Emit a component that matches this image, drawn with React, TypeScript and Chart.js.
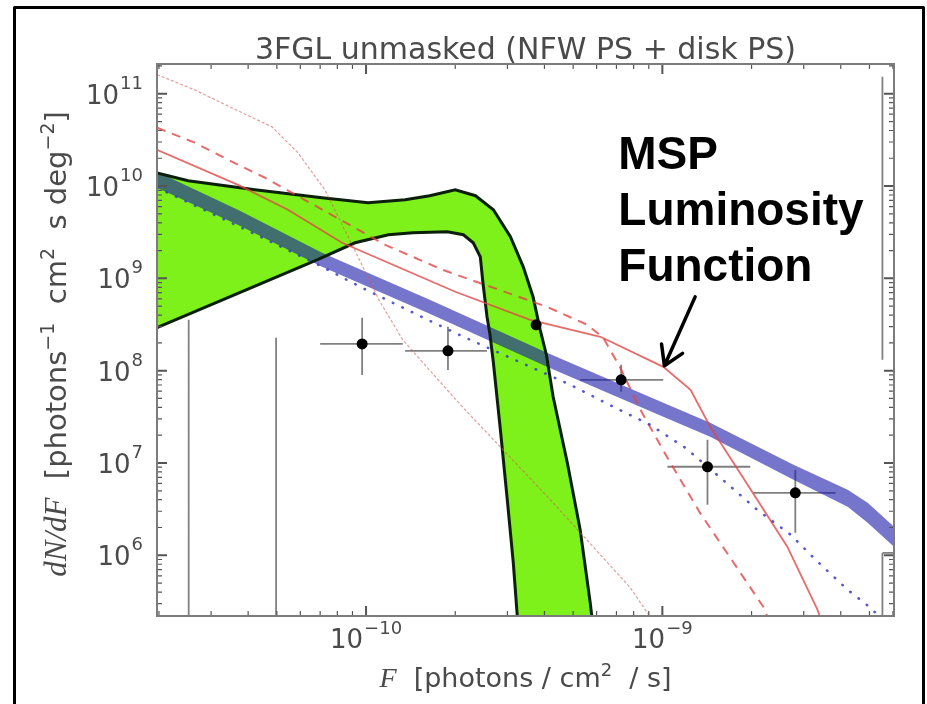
import React, { useEffect, useRef } from 'react';
import { Chart, registerables } from 'chart.js';

Chart.register(...registerables);

// ---------- axis ranges ----------
const F_MIN = 1.97e-11;
const F_MAX = 6.05e-9;
const N_MIN = 2.2e5;
const N_MAX = 2.1e11;

// ---------- text ----------
const titleText = '3FGL unmasked (NFW PS + disk PS)';
const xTickValues = [1e-10, 1e-9];
const xTickExps = ['−10', '−9'];
const yTickValues = [1e6, 1e7, 1e8, 1e9, 1e10, 1e11];
const yTickExps = ['6', '7', '8', '9', '10', '11'];
const annotationLines = ['MSP', 'Luminosity', 'Function'];
const annotationAnchor = { F: 7.1e-10, N: 1.54e10 };
const arrowTail = { F: 1.29e-9, N: 6.3e8 };
const arrowTip = { F: 1.016e-9, N: 1.13e8 };

// ---------- green band (disk PS) ----------
const greenUpperF = [1.97e-11, 2.51e-11, 4.22e-11, 7.1e-11, 1.016e-10, 1.355e-10, 1.64e-10, 2.0e-10, 2.34e-10, 2.69e-10, 3.07e-10, 3.39e-10, 3.66e-10, 3.87e-10, 4.06e-10, 4.28e-10, 4.78e-10, 5.28e-10, 5.71e-10, 5.85e-10];
const greenUpperN = [1.39e10, 1.14e10, 9.1e9, 7.47e9, 6.59e9, 7.1e9, 7.86e9, 9.1e9, 7.86e9, 5.53e9, 2.83e9, 1.34e9, 6.33e8, 2.77e8, 1.49e8, 5.21e7, 1.0e7, 1.89e6, 3.05e5, 1.56e5];
const greenInnerF = [1.97e-11, 6.83e-11, 9.18e-11, 1.19e-10, 1.44e-10, 1.88e-10, 2.13e-10, 2.30e-10, 2.43e-10, 2.48e-10, 2.56e-10, 2.62e-10, 2.69e-10, 2.84e-10, 2.99e-10, 3.14e-10, 3.24e-10, 3.26e-10];
const greenInnerN = [2.92e8, 1.59e9, 2.43e9, 2.97e9, 3.12e9, 3.2e9, 2.97e9, 2.43e9, 1.71e9, 8.96e8, 3.84e8, 2.45e8, 1.22e8, 2.29e7, 4.31e6, 8.3e5, 2.16e5, 1.56e5];

// ---------- blue band (NFW PS) ----------
const blueF = [1.97e-11, 3.75e-11, 7.1e-11, 1.64e-10, 4.08e-10, 1.007e-9, 1.45e-9, 2.77e-9, 4.22e-9, 4.93e-9, 6.05e-9];
const blueUpperN = [1.43e10, 5.4e9, 1.89e9, 5.87e8, 1.56e8, 4.49e7, 2.73e7, 9.55e6, 5.13e6, 3.71e6, 2.04e6];
const blueLowerN = [9.6e9, 3.71e9, 1.34e9, 4.13e8, 1.10e8, 3.17e7, 1.92e7, 6.57e6, 3.35e6, 2.25e6, 1.24e6];

// ---------- blue dotted ----------
const blueDotF = [1.97e-11, 2.41e-11, 4.06e-11, 7.0e-11, 9.69e-11, 1.64e-10, 2.13e-10, 4.89e-10, 6.83e-10, 9.1e-10, 1.196e-9, 1.57e-9, 2.09e-9, 2.71e-9, 3.29e-9, 4.22e-9, 5.04e-9, 5.45e-9];
const blueDotN = [9.6e9, 7.1e9, 3.2e9, 1.37e9, 7.91e8, 3.47e8, 2.33e8, 7.03e7, 4.06e7, 2.59e7, 1.46e7, 6.92e6, 3.11e6, 1.67e6, 8.94e5, 4.23e5, 2.7e5, 2.1e5];

// ---------- red solid ----------
const redSolidF = [1.97e-11, 3.70e-11, 5.45e-11, 8.3e-11, 2.0e-10, 3.58e-10, 6.18e-10, 1.007e-9, 1.245e-9, 1.45e-9, 1.74e-9, 2.09e-9, 2.64e-9, 3.34e-9, 3.47e-9];
const redSolidN = [2.47e10, 1.03e10, 5.53e9, 2.43e9, 7.16e8, 3.56e8, 2.33e8, 1.10e8, 6.21e7, 2.47e7, 1.0e7, 3.99e6, 1.24e6, 2.57e5, 1.77e5];

// ---------- red dashed ----------
const redDashF = [1.97e-11, 2.64e-11, 3.42e-11, 4.56e-11, 7.86e-11, 1.16e-10, 1.81e-10, 4.08e-10, 5.58e-10, 6.32e-10, 7.22e-10, 8.43e-10, 1.04e-9, 1.34e-9, 1.74e-9, 2.19e-9, 2.32e-9];
const redDashN = [4.29e10, 2.95e10, 1.93e10, 1.23e10, 4.65e9, 2.31e9, 1.24e9, 4.92e8, 3.14e8, 2.27e8, 1.07e8, 3.77e7, 1.14e7, 2.88e6, 8.3e5, 2.77e5, 1.77e5];

// ---------- red thin ----------
const redThinF = [1.97e-11, 2.64e-11, 3.52e-11, 4.81e-11, 5.89e-11, 7.26e-11, 8.97e-11, 1.114e-10, 1.33e-10, 2.08e-10, 4.19e-10, 7.8e-10, 9.47e-10];
const redThinN = [1.61e11, 1.10e11, 7.05e10, 4.39e10, 2.29e10, 9.12e9, 2.31e9, 5.58e8, 2.16e8, 4.28e7, 3.99e6, 4.45e5, 1.77e5];

// ---------- data points ----------
const pointF = [9.7e-11, 1.89e-10, 3.75e-10, 7.26e-10, 1.42e-9, 2.81e-9];
const pointN = [1.95e8, 1.64e8, 3.14e8, 7.96e7, 9.1e6, 4.75e6];
const xErrLo = [7.0e-11, 1.355e-10, 3.75e-10, 5.28e-10, 1.04e-9, 2.03e-9];
const xErrHi = [1.33e-10, 2.56e-10, 3.75e-10, 1.007e-9, 1.98e-9, 3.84e-9];
const yErrLo = [9.0e7, 1.02e8, 3.14e8, 5.9e7, 3.52e6, 1.75e6];
const yErrHi = [3.74e8, 2.99e8, 3.14e8, 1.16e8, 1.78e7, 8.4e6];

// vertical error bars of points outside the frame
const limitF = [2.52e-11, 4.97e-11, 5.53e-9, 5.53e-9];
const limitTopN = [3.56e8, 2.27e8, 1.53e11, 1.06e6];
const limitBottomN = [1e5, 1e5, 1.31e8, 1e5];
const rightCapF = [5.53e-9, 6.3e-9];
const rightCapN = 1.06e6;

// ---------- helpers ----------
const xy = (fs: number[], ns: number[]) => fs.map((f, i) => ({ x: f, y: ns[i] }));

function buildTicks(minV: number, maxV: number) {
  const out: { value: number; major: boolean }[] = [];
  for (let e = Math.floor(Math.log10(minV)); e <= Math.ceil(Math.log10(maxV)); e++) {
    for (let m = 1; m <= 9; m++) {
      const v = m * Math.pow(10, e);
      if (v >= minV && v <= maxV) out.push({ value: v, major: m === 1 });
    }
  }
  return out;
}

type Piece = { t: string; font: string; dy?: number };
function drawRich(ctx: CanvasRenderingContext2D, pieces: Piece[], cx: number, baseline: number) {
  const widths = pieces.map((p) => {
    ctx.font = p.font;
    return ctx.measureText(p.t).width;
  });
  const total = widths.reduce((a, b) => a + b, 0);
  let x = cx - total / 2;
  ctx.textAlign = 'left';
  ctx.textBaseline = 'alphabetic';
  pieces.forEach((p, i) => {
    ctx.font = p.font;
    ctx.fillText(p.t, x, baseline + (p.dy || 0));
    x += widths[i];
  });
}

const TXT = '#4a4a4a';
const BASE_FONT = '26px "DejaVu Sans"';
const EXP_FONT = '18px "DejaVu Sans"';

const decor = {
  id: 'decor',
  beforeDraw(chart: any) {
    const { ctx, width, height } = chart;
    ctx.save();
    ctx.fillStyle = '#ffffff';
    ctx.fillRect(0, 0, width, height);
    ctx.restore();
  },
  afterDatasetsDraw(chart: any) {
    const { ctx, chartArea: a, scales } = chart;
    const xs = scales.x;
    const ys = scales.y;
    ctx.save();
    ctx.strokeStyle = '#555555';
    for (const t of xs.ticks) {
      const px = xs.getPixelForValue(t.value);
      if (px <= a.left + 1 || px >= a.right - 1) continue;
      const len = t.major ? 10 : 5;
      ctx.lineWidth = t.major ? 2 : 1.2;
      ctx.beginPath();
      ctx.moveTo(px, a.bottom);
      ctx.lineTo(px, a.bottom - len);
      ctx.moveTo(px, a.top);
      ctx.lineTo(px, a.top + len);
      ctx.stroke();
    }
    for (const t of ys.ticks) {
      const py = ys.getPixelForValue(t.value);
      if (py <= a.top + 1 || py >= a.bottom - 1) continue;
      const len = t.major ? 10 : 5;
      ctx.lineWidth = t.major ? 2 : 1.2;
      ctx.beginPath();
      ctx.moveTo(a.left, py);
      ctx.lineTo(a.left + len, py);
      ctx.moveTo(a.right, py);
      ctx.lineTo(a.right - len, py);
      ctx.stroke();
    }
    ctx.strokeStyle = '#7c7c7c';
    ctx.lineWidth = 2;
    ctx.strokeRect(a.left, a.top, a.right - a.left, a.bottom - a.top);
    ctx.restore();
  },
  afterDraw(chart: any) {
    const { ctx, chartArea: a, scales } = chart;
    const xs = scales.x;
    const ys = scales.y;
    ctx.save();
    ctx.fillStyle = TXT;

    // title
    ctx.font = '30px "DejaVu Sans"';
    ctx.textAlign = 'center';
    ctx.textBaseline = 'alphabetic';
    ctx.fillText(titleText, (a.left + a.right) / 2, a.top - 5);

    // y tick labels
    yTickValues.forEach((v, i) => {
      const py = ys.getPixelForValue(v);
      ctx.font = BASE_FONT;
      const wb = ctx.measureText('10').width;
      ctx.font = EXP_FONT;
      const we = ctx.measureText(yTickExps[i]).width;
      const right = a.left - 14;
      const x0 = right - wb - 1 - we;
      ctx.textAlign = 'left';
      ctx.font = BASE_FONT;
      ctx.fillText('10', x0, py + 10);
      ctx.font = EXP_FONT;
      ctx.fillText(yTickExps[i], x0 + wb + 1, py - 5);
    });

    // x tick labels
    xTickValues.forEach((v, i) => {
      const px = xs.getPixelForValue(v);
      ctx.font = BASE_FONT;
      const wb = ctx.measureText('10').width;
      ctx.font = EXP_FONT;
      const we = ctx.measureText(xTickExps[i]).width;
      const x0 = px - (wb + 1 + we) / 2;
      ctx.textAlign = 'left';
      ctx.font = BASE_FONT;
      ctx.fillText('10', x0, a.bottom + 32);
      ctx.font = EXP_FONT;
      ctx.fillText(xTickExps[i], x0 + wb + 1, a.bottom + 18);
    });

    // x axis title
    const it = 'italic 28px "Liberation Serif"';
    const rg = '27px "DejaVu Sans"';
    const sp = '18px "DejaVu Sans"';
    drawRich(ctx, [
      { t: 'F', font: it },
      { t: '  [photons / cm', font: rg },
      { t: '2', font: sp, dy: -11 },
      { t: '  / s]', font: rg },
    ], (a.left + a.right) / 2, a.bottom + 71);

    // y axis title
    const rgY = '29px "DejaVu Sans"';
    const spY = '19px "DejaVu Sans"';
    ctx.save();
    ctx.translate(66, (a.top + a.bottom) / 2 + 4);
    ctx.rotate(-Math.PI / 2);
    drawRich(ctx, [
      { t: 'dN/dF', font: 'italic 31px "Liberation Serif"' },
      { t: '  [photons', font: rgY },
      { t: '−1', font: spY, dy: -12 },
      { t: '  cm', font: rgY },
      { t: '2', font: spY, dy: -12 },
      { t: '  s deg', font: rgY },
      { t: '−2', font: spY, dy: -12 },
      { t: ']', font: rgY },
    ], 0, 0);
    ctx.restore();

    // annotation
    const ax = xs.getPixelForValue(annotationAnchor.F);
    const ay = ys.getPixelForValue(annotationAnchor.N);
    ctx.fillStyle = '#000000';
    ctx.font = 'bold 46px "Liberation Sans"';
    ctx.textAlign = 'left';
    annotationLines.forEach((l, i) => ctx.fillText(l, ax, ay + i * 56));

    // arrow
    const tx = xs.getPixelForValue(arrowTip.F);
    const ty = ys.getPixelForValue(arrowTip.N);
    const sx = xs.getPixelForValue(arrowTail.F);
    const sy = ys.getPixelForValue(arrowTail.N);
    ctx.strokeStyle = '#000000';
    ctx.lineWidth = 3.5;
    ctx.lineCap = 'round';
    ctx.lineJoin = 'round';
    ctx.beginPath();
    ctx.moveTo(sx, sy);
    ctx.lineTo(tx, ty);
    const ang = Math.atan2(sy - ty, sx - tx);
    const L = 22;
    ctx.moveTo(tx + L * Math.cos(ang - 0.55), ty + L * Math.sin(ang - 0.55));
    ctx.lineTo(tx, ty);
    ctx.lineTo(tx + L * Math.cos(ang + 0.55), ty + L * Math.sin(ang + 0.55));
    ctx.stroke();

    // outer frame
    ctx.strokeStyle = '#000000';
    ctx.lineWidth = 3;
    ctx.lineCap = 'butt';
    ctx.strokeRect(14.5, 7.5, 909, 730);
    ctx.restore();
  },
};

export default function App() {
  const ref = useRef<HTMLCanvasElement | null>(null);

  useEffect(() => {
    document.body.style.margin = '0';
    const canvas = ref.current;
    if (!canvas) return;

    const greenPoly = [...xy(greenUpperF, greenUpperN), ...xy(greenInnerF, greenInnerN).reverse()];
    const bluePoly = [...xy(blueF, blueUpperN), ...xy(blueF, blueLowerN).reverse()];

    const hErr: any[] = [];
    const vErr: any[] = [];
    pointF.forEach((f, i) => {
      hErr.push({ x: xErrLo[i], y: pointN[i] }, { x: xErrHi[i], y: pointN[i] }, { x: xErrHi[i], y: null });
      vErr.push({ x: f, y: yErrLo[i] }, { x: f, y: yErrHi[i] }, { x: f, y: null });
    });
    limitF.forEach((f, i) => {
      vErr.push({ x: f, y: limitTopN[i] }, { x: f, y: limitBottomN[i] }, { x: f, y: null });
    });
    hErr.push({ x: rightCapF[0], y: rightCapN }, { x: rightCapF[1], y: rightCapN });

    const lineBase = { showLine: true, pointRadius: 0, pointHoverRadius: 0, tension: 0, clip: 0 };

    const datasets: any[] = [
      {
        ...lineBase, label: 'points', data: xy(pointF, pointN), showLine: false,
        pointRadius: 5.5, pointBackgroundColor: '#000000', pointBorderWidth: 0, order: 0,
      },
      { ...lineBase, label: 'blue dotted', data: xy(blueDotF, blueDotN), borderColor: 'rgba(60,60,200,0.85)', borderWidth: 2.6, borderDash: [0.5, 10], borderCapStyle: 'round', order: 2 },
      { ...lineBase, label: 'red thin', data: xy(redThinF, redThinN), borderColor: 'rgba(215,90,90,0.6)', borderWidth: 1.2, borderDash: [3, 2], order: 3 },
      { ...lineBase, label: 'red dashed', data: xy(redDashF, redDashN), borderColor: 'rgba(225,70,70,0.8)', borderWidth: 2, borderDash: [9, 7], order: 3 },
      { ...lineBase, label: 'red solid', data: xy(redSolidF, redSolidN), borderColor: 'rgba(225,70,70,0.8)', borderWidth: 1.8, order: 3 },
      { ...lineBase, label: 'green upper', data: xy(greenUpperF, greenUpperN), borderColor: '#0c1f0c', borderWidth: 3, order: 4 },
      { ...lineBase, label: 'green inner', data: xy(greenInnerF, greenInnerN), borderColor: '#0c1f0c', borderWidth: 3, order: 4 },
      { ...lineBase, label: 'blue band', data: bluePoly, borderWidth: 0, borderColor: 'transparent', backgroundColor: 'rgba(25,25,170,0.6)', fill: 'shape', order: 5 },
      { ...lineBase, label: 'green band', data: greenPoly, borderWidth: 0, borderColor: 'transparent', backgroundColor: '#7ef01a', fill: 'shape', order: 6 },
      { ...lineBase, label: 'x errors', data: hErr, borderColor: '#808080', borderWidth: 1.8, spanGaps: false, order: 7 },
      { ...lineBase, label: 'y errors', data: vErr, borderColor: '#808080', borderWidth: 1.8, spanGaps: false, order: 7 },
    ];

    const xTicks = buildTicks(F_MIN, F_MAX);
    const yTicks = buildTicks(N_MIN, N_MAX);

    const chart = new Chart(canvas, {
      type: 'scatter',
      data: { datasets },
      options: {
        animation: false,
        responsive: false,
        devicePixelRatio: 1,
        events: [],
        layout: { padding: { top: 64, right: 33, left: 0, bottom: 0 } },
        plugins: { legend: { display: false }, tooltip: { enabled: false }, title: { display: false } },
        scales: {
          x: {
            type: 'logarithmic', min: F_MIN, max: F_MAX,
            afterBuildTicks: (s: any) => { s.ticks = xTicks.map((t) => ({ ...t })); },
            afterFit: (s: any) => { s.height = 88; },
            grid: { display: false }, border: { display: false },
            ticks: { display: false, autoSkip: false },
          },
          y: {
            type: 'logarithmic', min: N_MIN, max: N_MAX,
            afterBuildTicks: (s: any) => { s.ticks = yTicks.map((t) => ({ ...t })); },
            afterFit: (s: any) => { s.width = 157; },
            grid: { display: false }, border: { display: false },
            ticks: { display: false, autoSkip: false },
          },
        },
      } as any,
      plugins: [decor],
    });
    return () => chart.destroy();
  }, []);

  return <canvas ref={ref} width={927} height={704} style={{ display: 'block' }} />;
}
